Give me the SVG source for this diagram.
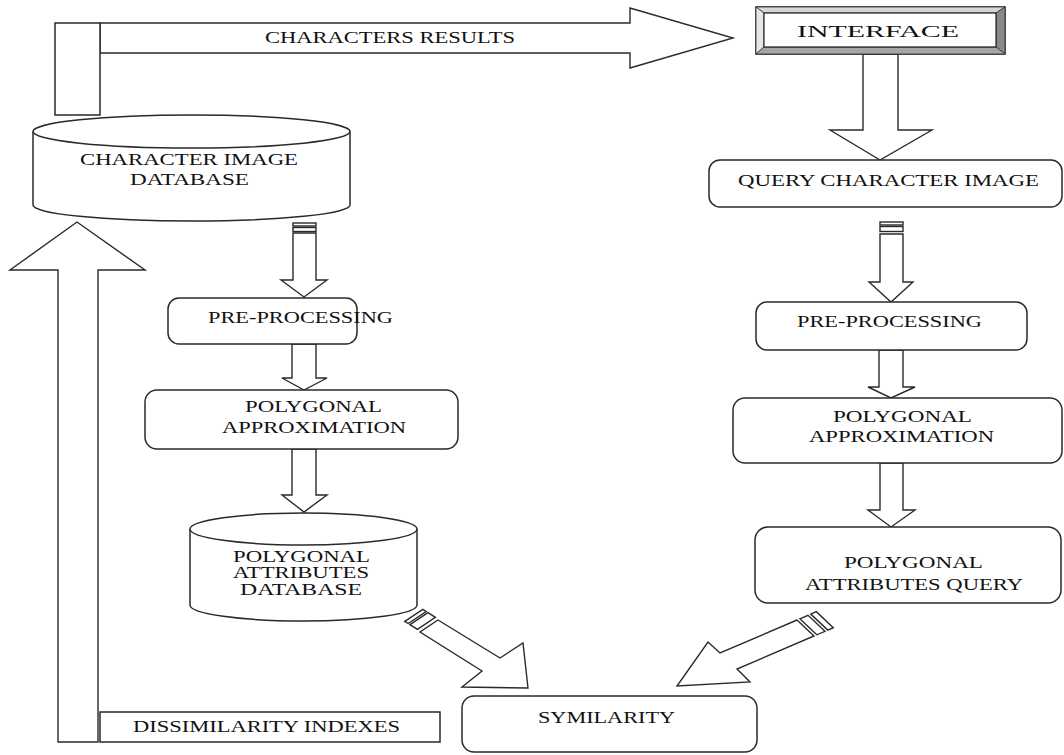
<svg xmlns="http://www.w3.org/2000/svg" width="1064" height="755" viewBox="0 0 1064 755">
<style>
.box{fill:#fff;stroke:#2a2a2a;stroke-width:1.5}
.arr{fill:#fff;stroke:#2a2a2a;stroke-width:1.4;stroke-linejoin:miter}
.t{font-family:"Liberation Serif","Times New Roman",serif;font-size:16px;fill:#111}
.m{text-anchor:middle}
</style>
<rect width="1064" height="755" fill="#fff"/>
<g id="connectors">
  <polygon class="arr" points="100,23 630,23 630,8 733,38 630,68 630,53 100,53"/>
  <polygon class="arr" points="863,54 898,54 898,130 932,130 880,160 830,130 863,130"/>
  <polygon class="arr" points="58,742 58,270 10,270 77,222 145,270 98,270 98,742"/>
  <g id="arrow-db-pre">
    <rect class="arr" x="293" y="223" width="23" height="3"/>
    <rect class="arr" x="293" y="227.5" width="23" height="4"/>
    <polygon class="arr" points="293,233 316,233 316,280 327,280 304,297 281,280 293,280"/>
  </g>
  <polygon class="arr" points="292,344 316,344 316,378 327,378 304,390 282,378 292,378"/>
  <polygon class="arr" points="292,449 316,449 316,495 327,495 304,512 282,495 292,495"/>
  <g id="arrow-q-pre">
    <rect class="arr" x="880" y="222" width="23" height="3"/>
    <rect class="arr" x="880" y="226.5" width="23" height="5"/>
    <polygon class="arr" points="880,234 903,234 903,282 913,282 891,302 869,282 880,282"/>
  </g>
  <polygon class="arr" points="879,350 903,350 903,387 915,387 891,398 868,387 879,387"/>
  <polygon class="arr" points="880,463 903,463 903,510 915,510 891,527 868,510 880,510"/>
  <g id="arrow-pad-sim">
    <polygon class="arr" points="404.8,621.4 422.8,609.4 426.2,611.5 408.2,623.5"/>
    <polygon class="arr" points="410.0,624.7 428.0,612.7 435.4,617.3 417.4,629.3"/>
    <polygon class="arr" points="438,620 500,658 523,643 528,688 462,687 482,671 420,632"/>
  </g>
  <g id="arrow-paq-sim">
    <polygon class="arr" points="799.8,618.8 808,615.3 825,631.3 816.8,634.8"/>
    <polygon class="arr" points="810.8,614.1 816.3,611.7 833.3,627.7 827.8,630.1"/>
    <polygon class="arr" points="797,620 720,653 708,642 677,686 750,682 737,669 814,636"/>
  </g>
</g>
<g id="results-bar">
  <rect class="box" x="55" y="23" width="45" height="92"/>
  <text class="t" x="265" y="43" textLength="250" lengthAdjust="spacingAndGlyphs">CHARACTERS RESULTS</text>
</g>
<g id="interface">
  <rect x="756" y="7" width="249" height="47" fill="#fff" stroke="#222" stroke-width="1.5"/>
  <polygon points="756,7 1005,7 996,13 764,13" fill="#d6d6d6" stroke="#333" stroke-width="0.8"/>
  <polygon points="756,7 764,13 764,47 756,54" fill="#e6e6e6" stroke="#333" stroke-width="0.8"/>
  <polygon points="1005,7 1005,54 996,47 996,13" fill="#8a8a8a" stroke="#333" stroke-width="0.8"/>
  <polygon points="756,54 764,47 996,47 1005,54" fill="#a6a6a6" stroke="#333" stroke-width="0.8"/>
  <rect x="764" y="13" width="232" height="34" fill="#fff" stroke="#222" stroke-width="1.2"/>
  <text class="t" x="797" y="37" textLength="162" lengthAdjust="spacingAndGlyphs">INTERFACE</text>
</g>
<g id="char-db">
  <path class="box" d="M33,131.5 L33,205 A158.5,16 0 0 0 350,205 L350,131.5"/>
  <ellipse class="box" cx="191.5" cy="131.5" rx="158.5" ry="16.5"/>
  <text class="t" x="80" y="165" textLength="218" lengthAdjust="spacingAndGlyphs">CHARACTER IMAGE</text>
  <text class="t" x="130" y="185" textLength="119" lengthAdjust="spacingAndGlyphs">DATABASE</text>
</g>
<g id="query-image">
  <rect class="box" x="709" y="160" width="353" height="47" rx="11"/>
  <text class="t" x="738" y="186" textLength="301" lengthAdjust="spacingAndGlyphs">QUERY CHARACTER IMAGE</text>
</g>
<g id="pre-left">
  <rect class="box" x="168" y="298" width="189" height="46" rx="11"/>
  <text class="t" x="208" y="323" textLength="185" lengthAdjust="spacingAndGlyphs">PRE-PROCESSING</text>
</g>
<g id="pre-right">
  <rect class="box" x="756" y="302" width="271" height="48" rx="11"/>
  <text class="t" x="797" y="327" textLength="185" lengthAdjust="spacingAndGlyphs">PRE-PROCESSING</text>
</g>
<g id="poly-left">
  <rect class="box" x="145" y="390" width="313" height="59" rx="12"/>
  <text class="t" x="245" y="412" textLength="137" lengthAdjust="spacingAndGlyphs">POLYGONAL</text>
  <text class="t" x="222" y="433" textLength="184" lengthAdjust="spacingAndGlyphs">APPROXIMATION</text>
</g>
<g id="poly-right">
  <rect class="box" x="733" y="398" width="329" height="65" rx="12"/>
  <text class="t" x="833" y="422" textLength="139" lengthAdjust="spacingAndGlyphs">POLYGONAL</text>
  <text class="t" x="809" y="442" textLength="185" lengthAdjust="spacingAndGlyphs">APPROXIMATION</text>
</g>
<g id="attr-db">
  <path class="box" d="M190,529 L190,605 A113.5,16 0 0 0 417,605 L417,529"/>
  <ellipse class="box" cx="303.5" cy="529" rx="113.5" ry="16"/>
  <text class="t" x="233" y="562" textLength="137" lengthAdjust="spacingAndGlyphs">POLYGONAL</text>
  <text class="t" x="233" y="578" textLength="136" lengthAdjust="spacingAndGlyphs">ATTRIBUTES</text>
  <text class="t" x="240" y="595" textLength="122" lengthAdjust="spacingAndGlyphs">DATABASE</text>
</g>
<g id="attr-query">
  <rect class="box" x="755" y="527" width="306" height="76" rx="13"/>
  <text class="t" x="844" y="568" textLength="139" lengthAdjust="spacingAndGlyphs">POLYGONAL</text>
  <text class="t" x="805" y="590" textLength="218" lengthAdjust="spacingAndGlyphs">ATTRIBUTES QUERY</text>
</g>
<g id="symilarity">
  <rect class="box" x="462" y="696" width="295" height="56" rx="12"/>
  <text class="t" x="538" y="723" textLength="137" lengthAdjust="spacingAndGlyphs">SYMILARITY</text>
</g>
<g id="dissimilarity">
  <rect class="box" x="100" y="712" width="340" height="30"/>
  <text class="t" x="133" y="732" textLength="267" lengthAdjust="spacingAndGlyphs">DISSIMILARITY INDEXES</text>
</g>
</svg>
